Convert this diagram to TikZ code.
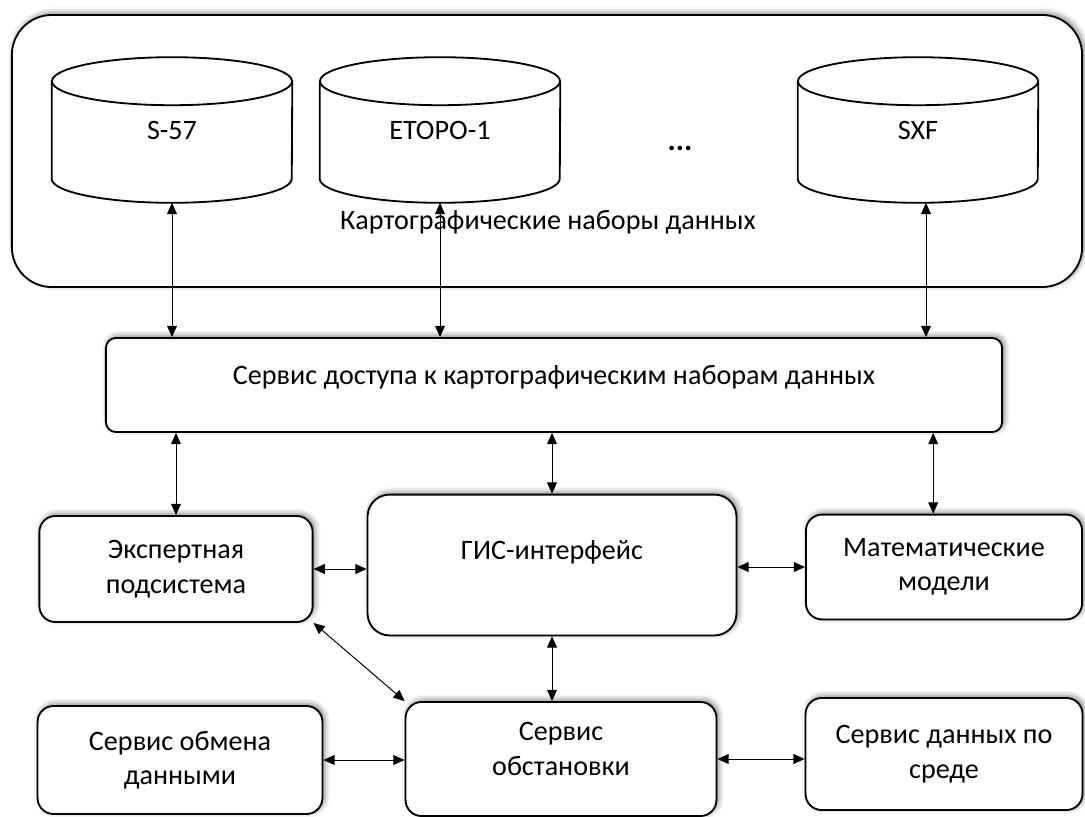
\documentclass[tikz,border=0pt]{standalone}
\usepackage{fontspec}
\setmainfont{Carlito}
\usetikzlibrary{arrows.meta, shadows.blur}

\begin{document}
\begin{tikzpicture}[
  x=0.025cm, y=-0.025cm,
  every node/.style = {font=\fontsize{20}{24.5}\selectfont, align=center},
  shade/.style = {blur shadow={shadow xshift=1.5pt, shadow yshift=1.5pt, shadow blur radius=4pt, shadow opacity=50}},
  unit/.style = {draw, line width=1.3pt, fill=white, rounded corners=0.4cm, shade},
  store/.style = {minimum width=6cm, minimum height=3.625cm},
  outline/.style = {line width=1.3pt},
  link/.style = {<->, line width=0.7pt},
  >={Triangle[length=8pt, width=7pt]}
]
  \useasboundingbox (0,0) rectangle (1085,816);

  % data sets
  \node[unit, rounded corners=1cm, minimum width=26.75cm, minimum height=6.8cm] (maps) at (547,151) {};
  \node[store] (dbA) at (172,130) {S-57};
  \node[store] (dbB) at (440,130) {ETOPO-1};
  \node[store] (dbC) at (918,130) {SXF};
  \foreach \db in {dbA,dbB,dbC} {
    \draw[outline] ([yshift=-0.6cm]\db.north) ellipse [x radius=3cm, y radius=0.6cm];
    \draw[outline] ([yshift=-0.6cm]\db.north west) -- ([yshift=0.6cm]\db.south west)
      arc [start angle=180, end angle=360, x radius=3cm, y radius=0.6cm]
      -- ([yshift=-0.6cm]\db.north east);
  }
  \node[font=\fontsize{22}{24}\selectfont\bfseries] (dots) at (680,148) {...};
  \node (mapsname) at (548,222) {Картографические наборы данных};

  % services
  \node[unit, rounded corners=0.25cm, minimum width=22.4cm, minimum height=2.35cm, text depth=0.49cm] (svc) at (554,385) {Сервис доступа к картографическим наборам данных};
  \node[unit, minimum width=6.83cm, minimum height=2.65cm] (expert) at (176,569) {Экспертная\\подсистема};
  \node[unit, rounded corners=0.55cm, minimum width=9.22cm, minimum height=3.52cm, text depth=0.74cm] (gis) at (552,565) {ГИС-интерфейс};
  \node[unit, minimum width=6.9cm, minimum height=2.62cm] (math) at (944,567) {Математические\\модели};
  \node[unit, minimum width=7.12cm, minimum height=2.7cm] (exch) at (180,760) {Сервис обмена\\данными};
  \node[unit, minimum width=7.77cm, minimum height=2.85cm, text depth=0.5cm] (obst) at (561,759) {Сервис\\обстановки};
  \node[unit, minimum width=6.92cm, minimum height=2.8cm] (sreda) at (944,754) {Сервис данных по\\среде};

  % links
  \draw[link] (dbA.south) -- (dbA.south |- svc.north);
  \draw[link] (dbB.south) -- (dbB.south |- svc.north);
  \draw[link] ([xshift=0.2cm]dbC.south) -- ([xshift=0.2cm]dbC.south |- svc.north);
  \draw[link] (svc.south -| expert) -- (expert.north);
  \draw[link] (svc.south -| gis) -- (gis.north);
  \draw[link] ([xshift=-0.27cm]svc.south -| math) -- ([xshift=-0.27cm]math.north);
  \draw[link] (expert.east) -- (expert.east -| gis.west);
  \draw[link] (math.west -| gis.east) -- (math.west);
  \draw[link] (expert.south east) -- (obst.north west);
  \draw[link] (gis.south) -- (gis.south |- obst.north);
  \draw[link] (exch.east) -- (exch.east -| obst.west);
  \draw[link] (obst.east) -- (obst.east -| sreda.west);
\end{tikzpicture}
\end{document}
